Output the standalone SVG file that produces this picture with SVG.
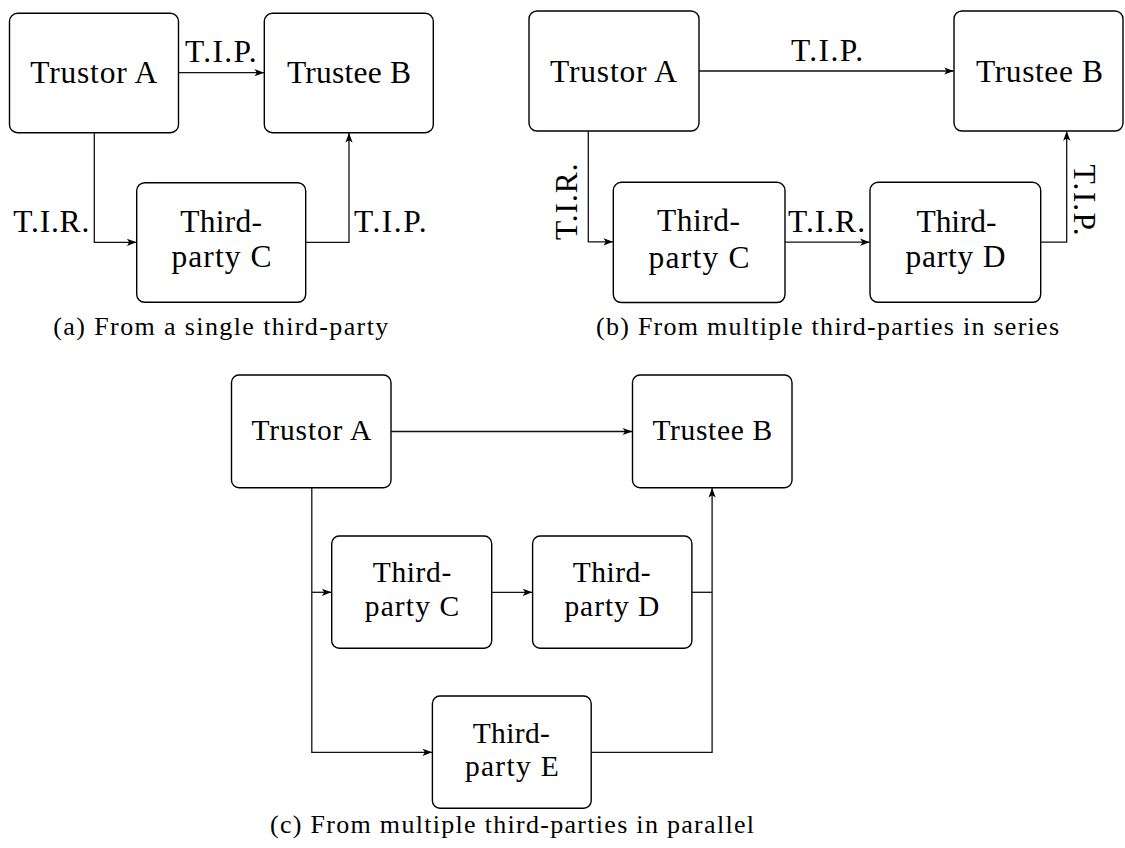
<svg xmlns="http://www.w3.org/2000/svg" width="1125" height="848" viewBox="0 0 1125 848">
  <style>
    .box { fill: #fff; stroke: #000; stroke-width: 1.4; }
    .wire { fill: none; stroke: #111; stroke-width: 1.3; }
    .arrow { marker-end: url(#tip); }
    text { font-family: "Liberation Serif", "Times New Roman", serif; fill: #000; }
    .lg { font-size: 31.5px; }
    .md { font-size: 29.5px; }
    .cap { font-size: 26px; }
    .mid { text-anchor: middle; }
  </style>
  <defs>
    <marker id="tip" markerUnits="userSpaceOnUse" viewBox="-10 -5 11 10" markerWidth="11" markerHeight="10" refX="0" refY="0" orient="auto">
      <path d="M0,0 L-9.5,-3.6 L-7.2,0 L-9.5,3.6 Z" fill="#000"/>
    </marker>
  </defs>

  <!-- (a) single third-party -->
  <g id="a-trustor">
    <rect class="box" x="9.5" y="13.3" width="169" height="119.4" rx="8"/>
    <text class="lg mid" x="93.7" y="82.7" textLength="127">Trustor A</text>
  </g>
  <g id="a-trustee">
    <rect class="box" x="264.3" y="13.3" width="169" height="119.4" rx="8"/>
    <text class="lg mid" x="349" y="82.7" textLength="124">Trustee B</text>
  </g>
  <g id="a-third-c">
    <rect class="box" x="136.7" y="182.7" width="169" height="119.6" rx="8"/>
    <text class="lg mid" x="221.2" y="231.7" textLength="81.7">Third-</text>
    <text class="lg mid" x="221.5" y="267.3" textLength="100">party C</text>
  </g>

  <!-- (b) third-parties in series -->
  <g id="b-trustor">
    <rect class="box" x="529" y="11" width="170" height="120" rx="8"/>
    <text class="lg mid" x="613.5" y="82" textLength="127">Trustor A</text>
  </g>
  <g id="b-trustee">
    <rect class="box" x="954" y="11" width="169" height="120" rx="8"/>
    <text class="lg mid" x="1039.5" y="82" textLength="127">Trustee B</text>
  </g>
  <g id="b-third-c">
    <rect class="box" x="613.3" y="182.3" width="171.7" height="120.2" rx="8"/>
    <text class="lg mid" x="698.5" y="231.2" textLength="83">Third-</text>
    <text class="lg mid" x="699" y="267.5" textLength="101">party C</text>
  </g>
  <g id="b-third-d">
    <rect class="box" x="870" y="182.3" width="170.7" height="120" rx="8"/>
    <text class="lg mid" x="956.5" y="231.5" textLength="80">Third-</text>
    <text class="lg mid" x="955.5" y="267" textLength="100">party D</text>
  </g>

  <!-- (c) third-parties in parallel -->
  <g id="c-trustor">
    <rect class="box" x="231.5" y="375" width="159.5" height="112.7" rx="7.5"/>
    <text class="md mid" x="311.3" y="440" textLength="119.8">Trustor A</text>
  </g>
  <g id="c-trustee">
    <rect class="box" x="632.5" y="375" width="159.5" height="112.7" rx="7.5"/>
    <text class="md mid" x="712.3" y="440" textLength="119.8">Trustee B</text>
  </g>
  <g id="c-third-c">
    <rect class="box" x="331.7" y="536" width="160" height="112.3" rx="7.5"/>
    <text class="md mid" x="412" y="581.7" textLength="78.5">Third-</text>
    <text class="md mid" x="412" y="616" textLength="94.5">party C</text>
  </g>
  <g id="c-third-d">
    <rect class="box" x="532.6" y="536" width="159.3" height="112.3" rx="7.5"/>
    <text class="md mid" x="611.7" y="581.7" textLength="77.7">Third-</text>
    <text class="md mid" x="611.9" y="616" textLength="95">party D</text>
  </g>
  <g id="c-third-e">
    <rect class="box" x="432.4" y="696" width="158.8" height="112.3" rx="7.5"/>
    <text class="md mid" x="511.3" y="742.7" textLength="77.3">Third-</text>
    <text class="md mid" x="511.8" y="776" textLength="93.8">party E</text>
  </g>

  <g id="connectors">
    <!-- (a) -->
    <path class="wire arrow" d="M178.5,72.7 H264"/>
    <path class="wire arrow" d="M94.3,132.7 V242.3 H136.4"/>
    <path class="wire arrow" d="M305.7,242.3 H349 V133"/>
    <text class="lg" x="185" y="61.7" textLength="71.7">T.I.P.</text>
    <text class="lg" x="13.3" y="231.7" textLength="76">T.I.R.</text>
    <text class="lg" x="354" y="231.7" textLength="72.7">T.I.P.</text>

    <!-- (b) -->
    <path class="wire arrow" d="M699,71 H953.8"/>
    <path class="wire arrow" d="M588.3,131 V241.8 H613"/>
    <path class="wire arrow" d="M785,242.2 H869.7"/>
    <path class="wire arrow" d="M1040.7,242.2 H1066.7 V131.3"/>
    <text class="lg" x="791" y="61" textLength="72">T.I.P.</text>
    <text class="lg" x="788" y="231.7" textLength="77">T.I.R.</text>
    <text class="lg mid" transform="translate(577,201.7) rotate(-90)" textLength="76.7">T.I.R.</text>
    <text class="lg mid" transform="translate(1074,200) rotate(90)" textLength="71">T.I.P.</text>

    <!-- (c) -->
    <path class="wire arrow" d="M391,431.5 H632.2"/>
    <path class="wire arrow" d="M311.8,487.7 V752.3 H432.1"/>
    <path class="wire arrow" d="M311.8,592.3 H331.4"/>
    <path class="wire arrow" d="M491.7,592.3 H532.3"/>
    <path class="wire" d="M691.9,592.3 H712.1"/>
    <path class="wire arrow" d="M591.2,752.3 H712.1 V488"/>
  </g>

  <!-- sub-figure captions -->
  <text class="cap" x="53.3" y="335" textLength="335">(a) From a single third-party</text>
  <text class="cap" x="596" y="335" textLength="463">(b) From multiple third-parties in series</text>
  <text class="cap" x="270" y="832.7" textLength="484">(c) From multiple third-parties in parallel</text>
</svg>
